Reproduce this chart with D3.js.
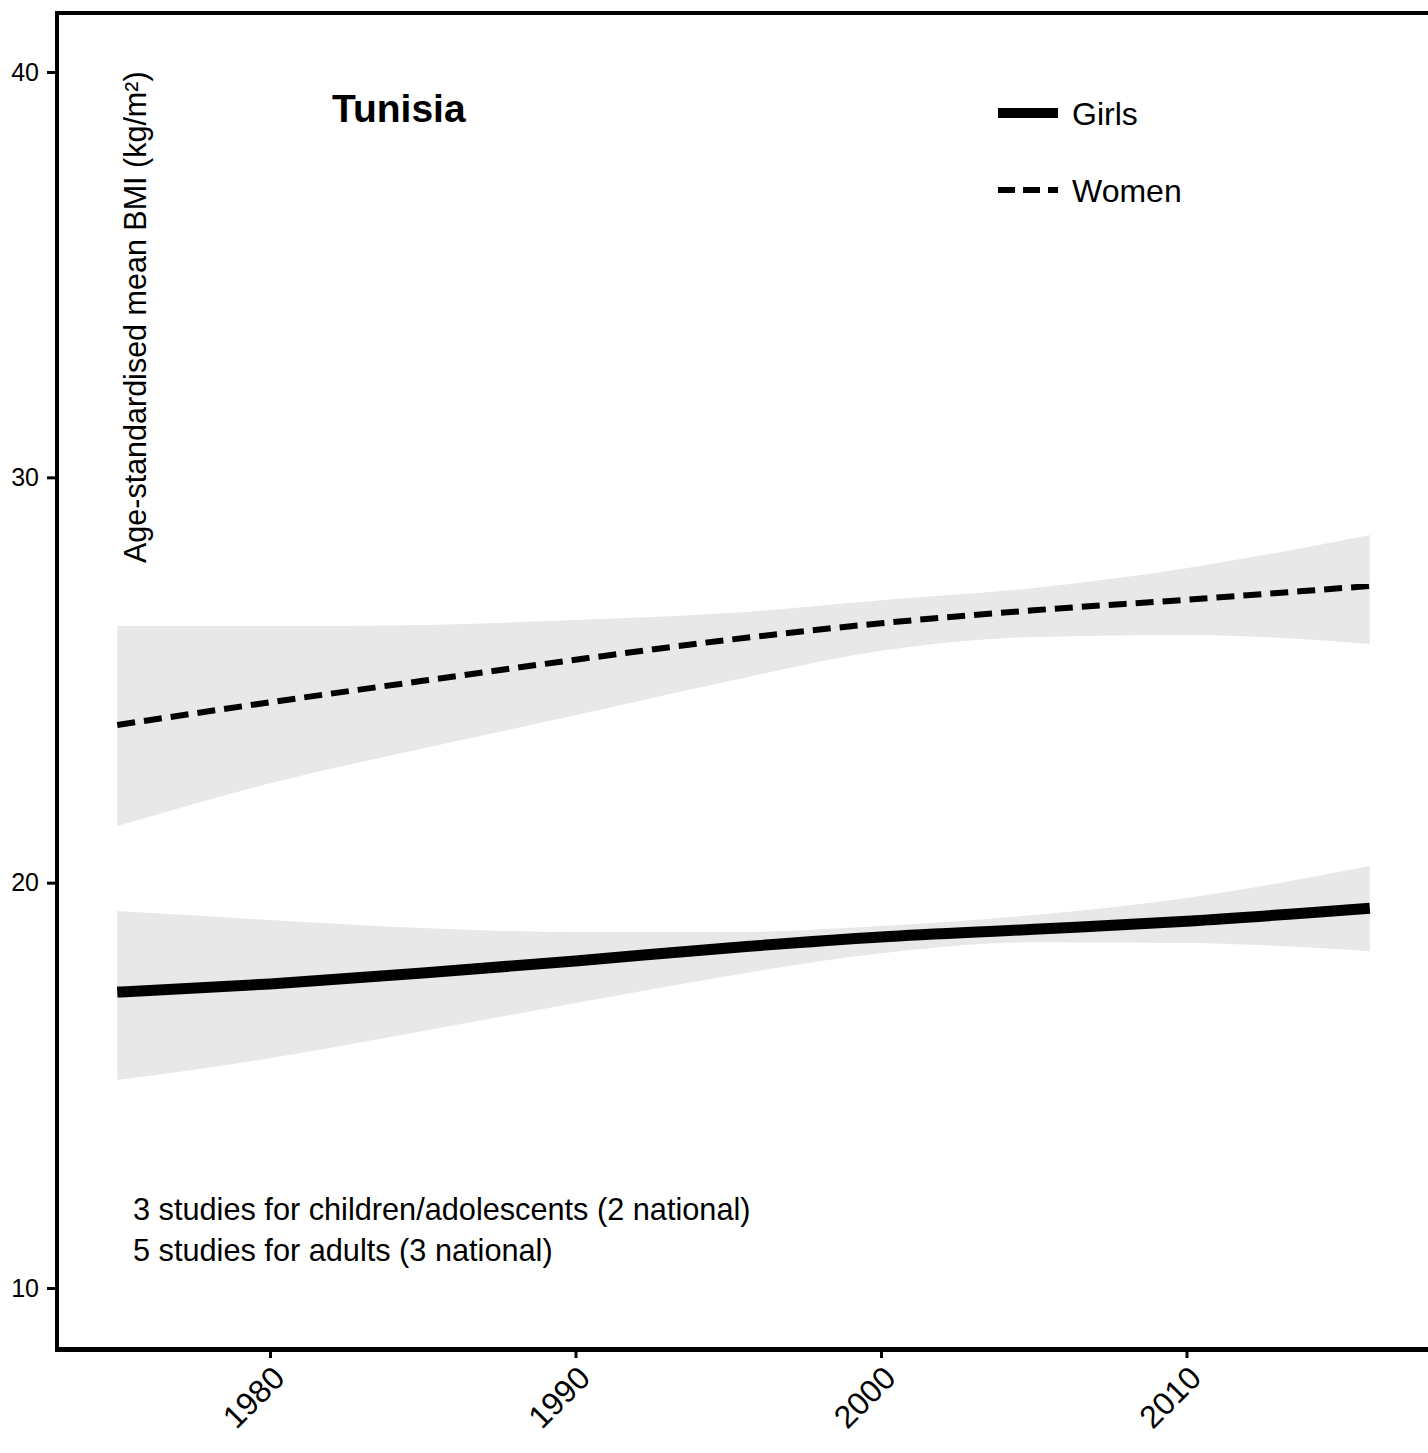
<!DOCTYPE html>
<html>
<head>
<meta charset="utf-8">
<script src="https://cdn.jsdelivr.net/npm/d3@7"></script>
<style>
  html, body { margin: 0; padding: 0; background: #fff; }
  svg { display: block; font-family: "Liberation Sans", Arial, Helvetica, sans-serif; }
</style>
</head>
<body>
<svg id="chart" width="1428" height="1453"></svg>
<script>
// ---- data ----
const years = [1975, 1980, 1985, 1990, 1995, 2000, 2005, 2010, 2016];
const girlsMean  = [17.30, 17.50, 17.77, 18.07, 18.39, 18.66, 18.85, 19.05, 19.37];
const girlsUpper = [19.30, 19.08, 18.88, 18.78, 18.78, 18.93, 19.20, 19.62, 20.41];
const girlsLower = [15.13, 15.67, 16.34, 17.03, 17.70, 18.26, 18.53, 18.51, 18.31];
const womenMean  = [23.89, 24.45, 24.98, 25.50, 25.99, 26.40, 26.72, 26.98, 27.32];
const womenUpper = [26.33, 26.33, 26.36, 26.48, 26.65, 26.97, 27.27, 27.76, 28.58];
const womenLower = [21.40, 22.45, 23.31, 24.13, 24.97, 25.72, 26.06, 26.11, 25.89];
const xTicks = [1980, 1990, 2000, 2010];
const yTicks = [10, 20, 30, 40];
const seriesNames = ["Girls", "Women"];
const titleText = "Tunisia";
const yLabel = "Age-standardised mean BMI (kg/m\u00B2)";
const notes = ["3 studies for children/adolescents (2 national)", "5 studies for adults (3 national)"];

// ---- scales ----
const x = d3.scaleLinear().domain([1980, 2010]).range([270, 1186.5]);
const y = d3.scaleLinear().domain([10, 40]).range([1288, 72]);

const svg = d3.select("#chart");

function rows(mean, lo, hi) {
  return years.map((yr, i) => ({yr, m: mean[i], lo: lo[i], hi: hi[i]}));
}
const girls = rows(girlsMean, girlsLower, girlsUpper);
const women = rows(womenMean, womenLower, womenUpper);

const area = d3.area().curve(d3.curveMonotoneX)
  .x(d => x(d.yr)).y0(d => y(d.lo)).y1(d => y(d.hi));
const line = d3.line().curve(d3.curveMonotoneX)
  .x(d => x(d.yr)).y(d => y(d.m));

// bands
svg.append("path").datum(women).attr("d", area).attr("fill", "#e8e8e8");
svg.append("path").datum(girls).attr("d", area).attr("fill", "#e8e8e8");

// lines
svg.append("path").datum(women).attr("d", line)
  .attr("fill", "none").attr("stroke", "#000").attr("stroke-width", 6)
  .attr("stroke-dasharray", "18,9");
svg.append("path").datum(girls).attr("d", line)
  .attr("fill", "none").attr("stroke", "#000").attr("stroke-width", 11);

// axes frame
svg.append("line").attr("x1", 57).attr("x2", 57).attr("y1", 11).attr("y2", 1352)
  .attr("stroke", "#000").attr("stroke-width", 4);
svg.append("line").attr("x1", 55).attr("x2", 1428).attr("y1", 13).attr("y2", 13)
  .attr("stroke", "#000").attr("stroke-width", 4);
svg.append("line").attr("x1", 55).attr("x2", 1428).attr("y1", 1349.5).attr("y2", 1349.5)
  .attr("stroke", "#000").attr("stroke-width", 5);

// y axis ticks
const yAxis = svg.append("g").attr("transform", "translate(55,0)")
  .call(d3.axisLeft(y).tickValues(yTicks).tickSize(8).tickPadding(8).tickFormat(d3.format("d")));
yAxis.select(".domain").remove();
yAxis.selectAll(".tick line").attr("stroke", "#000").attr("stroke-width", 3);
yAxis.selectAll(".tick text").attr("font-size", 25).attr("fill", "#000")
  .attr("font-family", "'Liberation Sans', Arial, Helvetica, sans-serif");

// x axis ticks
const xAxis = svg.append("g").attr("transform", "translate(0,1351)")
  .call(d3.axisBottom(x).tickValues(xTicks).tickSize(7).tickFormat(d3.format("d")));
xAxis.select(".domain").remove();
xAxis.selectAll(".tick line").attr("stroke", "#000").attr("stroke-width", 3);
xAxis.selectAll(".tick text")
  .attr("font-size", 32).attr("fill", "#000")
  .attr("font-family", "'Liberation Sans', Arial, Helvetica, sans-serif")
  .attr("text-anchor", "end").attr("y", 0).attr("dy", 0)
  .attr("transform", "translate(16,29) rotate(-45)");

// y label
svg.append("text")
  .attr("transform", "translate(146,563) rotate(-90)")
  .attr("font-size", 30.5).attr("fill", "#000")
  .text(yLabel);

// title
svg.append("text").attr("x", 332).attr("y", 122)
  .attr("font-size", 39).attr("font-weight", "bold").attr("fill", "#000")
  .text(titleText);

// legend
const lg = svg.append("g");
lg.append("line").attr("x1", 998).attr("x2", 1058).attr("y1", 113).attr("y2", 113)
  .attr("stroke", "#000").attr("stroke-width", 10);
lg.append("line").attr("x1", 998).attr("x2", 1058).attr("y1", 190).attr("y2", 190)
  .attr("stroke", "#000").attr("stroke-width", 6).attr("stroke-dasharray", "17,8");
lg.append("text").attr("x", 1072).attr("y", 124.5).attr("font-size", 32).attr("fill", "#000").text(seriesNames[0]);
lg.append("text").attr("x", 1072).attr("y", 201.5).attr("font-size", 32).attr("fill", "#000").text(seriesNames[1]);

// notes
svg.append("text").attr("x", 133).attr("y", 1220).attr("font-size", 30.7).attr("fill", "#000").text(notes[0]);
svg.append("text").attr("x", 133).attr("y", 1261).attr("font-size", 30.7).attr("fill", "#000").text(notes[1]);
</script>
</body>
</html>
